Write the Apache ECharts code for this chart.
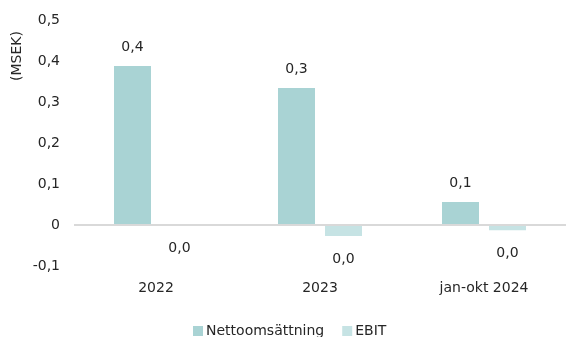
<!DOCTYPE html>
<html>
<head>
<meta charset="utf-8">
<script src="https://cdn.jsdelivr.net/npm/echarts@6/dist/echarts.min.js"></script>
<style>
  html, body { margin: 0; padding: 0; background: #fff; }
  #main { width: 566px; height: 337px; }
</style>
</head>
<body>
<div id="main"></div>
<script>
// data
var categories = ["2022", "2023", "jan-okt 2024"];
var netSales = [0.388, 0.334, 0.056];
var ebit = [0, -0.027, -0.013];
var seriesNames = ["Nettoomsättning", "EBIT"];

var FONT = "DejaVu Sans";
var TXT = "#262626";

function fmtLabel(p) {
  var s = (Math.round(p.value * 10) / 10).toFixed(1);
  return s.replace(".", ",");
}

var myChart = echarts.init(document.getElementById("main"));

var option = {
  animation: false,
  textStyle: { fontFamily: FONT },
  grid: { left: 74, right: -3, top: 20, bottom: 71, containLabel: false },
  legend: {
    data: seriesNames,
    bottom: -6,
    left: 188,
    itemWidth: 10,
    itemHeight: 10,
    itemGap: 18,
    icon: "rect",
    textStyle: { fontFamily: FONT, fontSize: 14, color: TXT, padding: [0, 0, 0, -2] }
  },
  graphic: [
    {
      type: "text",
      x: 17,
      y: 56,
      rotation: Math.PI / 2,
      style: {
        text: "(MSEK)",
        fontFamily: FONT,
        fontSize: 14,
        fill: TXT,
        align: "center",
        verticalAlign: "middle"
      }
    }
  ],
  xAxis: {
    type: "category",
    data: categories,
    axisLine: { show: false, onZero: false },
    axisTick: { show: false },
    axisLabel: { fontFamily: FONT, fontSize: 14, color: TXT, margin: 15 }
  },
  yAxis: {
    type: "value",
    min: -0.1,
    max: 0.5,
    interval: 0.1,
    axisLine: { show: false },
    axisTick: { show: false },
    splitLine: { show: false },
    axisLabel: {
      fontFamily: FONT,
      fontSize: 14,
      color: TXT,
      margin: 14,
      formatter: function (v) {
        if (Math.abs(v) < 1e-9) return "0";
        return (Math.round(v * 10) / 10).toString().replace(".", ",");
      }
    }
  },
  series: [
    {
      name: seriesNames[0],
      type: "bar",
      data: netSales,
      barWidth: 37,
      barGap: "27%",
      itemStyle: { color: "#A9D3D4" },
      label: {
        show: true,
        position: "top",
        distance: 12,
        fontFamily: FONT,
        fontSize: 14,
        color: TXT,
        formatter: fmtLabel
      },
      markLine: {
        silent: true,
        symbol: "none",
        label: { show: false },
        lineStyle: { color: "#D9D9D9", width: 2, type: "solid" },
        data: [{ yAxis: 0 }]
      }
    },
    {
      name: seriesNames[1],
      type: "bar",
      data: ebit,
      barWidth: 37,
      itemStyle: { color: "#C6E3E4" },
      label: {
        show: true,
        position: "bottom",
        distance: 16,
        fontFamily: FONT,
        fontSize: 14,
        color: TXT,
        formatter: fmtLabel
      }
    }
  ]
};

option && myChart.setOption(option);
</script>
</body>
</html>
